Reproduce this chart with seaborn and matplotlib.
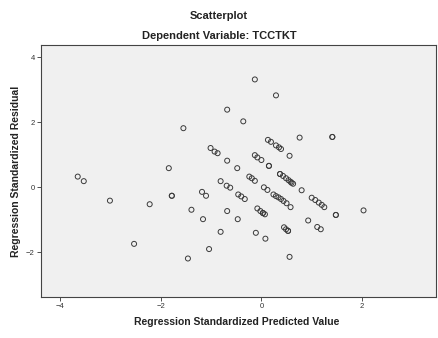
import matplotlib
matplotlib.use("Agg")
import matplotlib.pyplot as plt
import seaborn as sns
import pandas as pd

# Regression standardized predicted values (x) and residuals (y)
predicted = [
    -0.13, 0.29, -0.68, -0.36, -1.55, 1.41, 1.41, 0.76, 0.13, 0.19,
    0.29, 0.35, 0.39, 0.56, -1.01, -0.93, -0.87, -0.13, -0.08, 0.00,
    -0.68, 0.15, 0.15, -0.48, -1.84, -0.24, -0.19, -0.13,
    0.37, 0.37, 0.43, 0.49, 0.54, 0.58, 0.60, 0.63,
    -3.65, -3.53, -0.81, -0.69, -0.62, 0.05, 0.12, 0.80,
    -3.01, -2.22, -1.78, -1.78, -1.18, -1.10, -0.46, -0.40, -0.33,
    0.24, 0.29, 0.34, 0.39, 0.44, 0.50, 0.58,
    1.00, 1.07, 1.14, 1.20, 1.25, 1.48, 1.48, 2.03,
    -1.39, -0.68, -0.08, -0.02, 0.03, 0.03, 0.07,
    -1.16, -0.47, 0.93, 0.45, 0.49, 0.53, 0.53, 1.11, 1.18,
    -0.81, -0.11, 0.08, -2.53, -1.46, -1.04, 0.56,
]
residual = [
    3.32, 2.83, 2.39, 2.03, 1.82, 1.55, 1.55, 1.53, 1.46, 1.40,
    1.29, 1.23, 1.18, 0.97, 1.21, 1.10, 1.05, 0.99, 0.92, 0.84,
    0.82, 0.66, 0.66, 0.59, 0.59, 0.33, 0.28, 0.20,
    0.41, 0.41, 0.35, 0.28, 0.22, 0.17, 0.14, 0.11,
    0.33, 0.19, 0.19, 0.05, -0.01, 0.00, -0.08, -0.09,
    -0.41, -0.52, -0.26, -0.26, -0.14, -0.26, -0.22, -0.28, -0.36,
    -0.22, -0.27, -0.31, -0.36, -0.42, -0.49, -0.61,
    -0.32, -0.39, -0.47, -0.54, -0.61, -0.85, -0.85, -0.71,
    -0.69, -0.73, -0.65, -0.73, -0.79, -0.79, -0.83,
    -0.98, -0.98, -1.02, -1.23, -1.29, -1.34, -1.34, -1.22, -1.29,
    -1.37, -1.40, -1.58, -1.74, -2.19, -1.90, -2.14,
]
x_ticks = [-4, -2, 0, 2]
y_ticks = [-2, 0, 2, 4]

title_main = "Scatterplot"
title_sub = "Dependent Variable: TCCTKT"
x_label = "Regression Standardized Predicted Value"
y_label = "Regression Standardized Residual"

df = pd.DataFrame({"pred": predicted, "resid": residual})

sns.set_style("white")
plt.rcParams['font.family'] = ['Liberation Sans', 'DejaVu Sans']

fig = plt.figure(figsize=(4.38, 3.38), dpi=100)
ax = fig.add_axes([0.0936, 0.1213, 0.9018, 0.7456])
ax.set_facecolor("#f0f0f0")

sns.scatterplot(data=df, x="pred", y="resid", ax=ax, marker="o",
                facecolors="none", edgecolor="#3a3a3a", linewidth=0.7, s=13)

ax.set_xlim(-4.38, 3.47)
ax.set_ylim(-3.375, 4.38)
ax.set_xticks(x_ticks)
ax.set_yticks(y_ticks)
ax.tick_params(axis="both", which="both", direction="out", length=3, width=0.6,
               labelsize=5.5, colors="#333333", pad=1.5, left=True, bottom=True)
for s in ax.spines.values():
    s.set_color("#444444")
    s.set_linewidth(0.8)

ax.set_xlabel("")
ax.set_ylabel("")
fig.text(237 / 438, 1 - 322 / 338, x_label, ha="center", va="center",
         fontsize=7.5, fontweight="bold", color="#222222")
fig.text(16 / 438, 1 - 171 / 338, y_label, ha="center", va="center",
         rotation=90, fontsize=7.5, fontweight="bold", color="#222222")
fig.text(219 / 438, 1 - 16 / 338, title_main, ha="center", va="center",
         fontsize=8, fontweight="bold", color="#222222")
fig.text(219 / 438, 1 - 36 / 338, title_sub, ha="center", va="center",
         fontsize=8, fontweight="bold", color="#222222")

fig.savefig("out.png", dpi=100, facecolor="white")
